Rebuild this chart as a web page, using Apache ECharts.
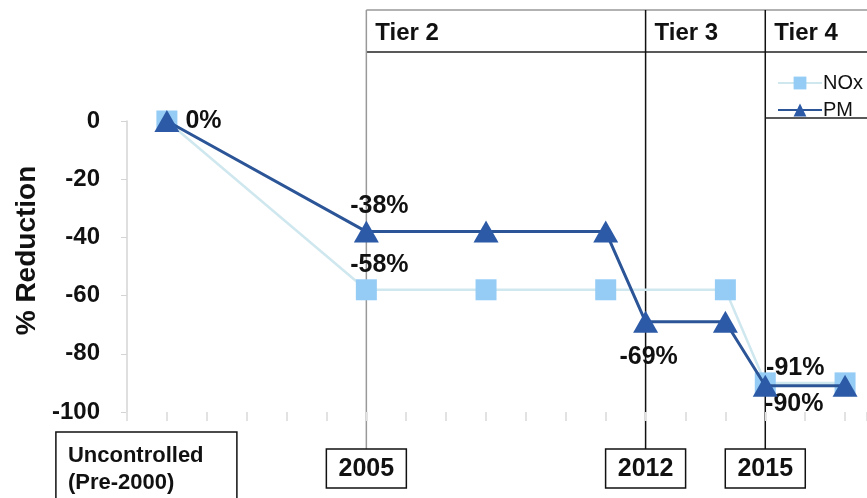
<!DOCTYPE html>
<html>
<head>
<meta charset="utf-8">
<script src="https://cdn.jsdelivr.net/npm/echarts@6/dist/echarts.min.js"></script>
<style>
  html, body { margin: 0; padding: 0; background: #fff; }
  #chart { width: 867px; height: 498px; }
</style>
</head>
<body>
<div id="chart"></div>
<script>
// data
const noxYears = [2000, 2005, 2008, 2011, 2014, 2015, 2017]
const noxValues = [0, -58, -58, -58, -58, -90, -90]
const pmYears = [2000, 2005, 2008, 2011, 2012, 2014, 2015, 2017]
const pmValues = [0, -38, -38, -38, -69, -69, -91, -91]
const tierNames = ['Tier 2', 'Tier 3', 'Tier 4']
const tierYears = [2005, 2012, 2015]
const milestoneLabels = ['2005', '2012', '2015']
const milestoneYears = [2005, 2012, 2015]

// which points carry a % label, and where
const pmLabels = {
	0: { position: 'right', distance: 6, offset: [0, 0] },
	1: { position: 'top', distance: 2, offset: [13, 0] },
	4: { position: 'bottom', distance: 12, offset: [3, 0] },
	6: { position: 'top', distance: -6, offset: [30, 0] },
}
const noxLabels = {
	1: { position: 'top', distance: 2, offset: [13, 0] },
	5: { position: 'bottom', distance: -2, offset: [29, 0] },
}

const font = 'Liberation Sans, Arial, sans-serif'

function buildData(xs, ys, labels) {
	return xs.map((x, i) => {
		let item = { value: [x, ys[i]] }
		if (labels[i]) {
			item.label = Object.assign({ show: true }, labels[i])
		}
		return item
	})
}

const labelStyle = {
	show: false,
	formatter: (p) => p.value[1] + '%',
	fontFamily: font,
	fontWeight: 'bold',
	fontSize: 25,
	color: '#111',
}

var chart = echarts.init(document.getElementById('chart'))
chart.setOption({
	animation: false,
	backgroundColor: '#fff',
	grid: { left: 127, right: 0, top: 121, bottom: 86 },
	legend: {
		orient: 'vertical',
		left: 772,
		top: 68,
		itemGap: 7,
		itemWidth: 44,
		itemHeight: 16,
		textStyle: { fontFamily: font, fontSize: 20, color: '#111', padding: [0, 0, 0, -4] },
		data: ['NOx', 'PM'],
	},
	xAxis: {
		type: 'value',
		min: 1999,
		max: 2017.55,
		interval: 1,
		axisLabel: { show: false },
		axisLine: { show: false, onZero: false },
		axisTick: { show: true, length: 9, lineStyle: { color: '#e2e2e2', width: 2 } },
		splitLine: { show: false },
	},
	yAxis: {
		type: 'value',
		min: -100,
		max: 0,
		interval: 20,
		name: '% Reduction',
		nameLocation: 'middle',
		nameGap: 84,
		nameTextStyle: { fontFamily: font, fontWeight: 'bold', fontSize: 28, color: '#111', padding: [0, 0, 0, 32] },
		axisLine: { show: true, lineStyle: { color: '#d4d4d4', width: 1.5 } },
		axisTick: { show: true, length: 6, lineStyle: { color: '#d4d4d4' } },
		axisLabel: { fontFamily: font, fontWeight: 'bold', fontSize: 24, color: '#111', margin: 27 },
		splitLine: { show: false },
	},
	series: [
		{
			name: 'NOx',
			type: 'line',
			data: buildData(noxYears, noxValues, noxLabels),
			symbol: 'rect',
			symbolSize: 21,
			itemStyle: { color: '#95ccf6' },
			lineStyle: { color: '#cfe7ee', width: 2.5 },
			label: labelStyle,
			z: 2,
		},
		{
			name: 'PM',
			type: 'line',
			data: buildData(pmYears, pmValues, pmLabels),
			symbol: 'triangle',
			symbolSize: [25, 22],
			itemStyle: { color: '#2d5aa6' },
			lineStyle: { color: '#2b5597', width: 3 },
			label: labelStyle,
			z: 3,
		},
	],
})

// tier bands and milestone boxes, positioned from the x axis scale
const px = (yr) => chart.convertToPixel({ xAxisIndex: 0 }, yr)
let graphics = []
const topY = 10
const divY = 52
graphics.push({ type: 'line', shape: { x1: px(2005), y1: topY, x2: 867, y2: topY }, style: { stroke: '#999', lineWidth: 1.5 } })
graphics.push({ type: 'line', shape: { x1: px(2005), y1: divY, x2: 867, y2: divY }, style: { stroke: '#222', lineWidth: 1.5 } })
tierYears.forEach((yr, i) => {
	const x = px(yr)
	graphics.push({
		type: 'line',
		shape: { x1: x, y1: topY, x2: x, y2: 450 },
		style: { stroke: i === 0 ? '#999' : '#111', lineWidth: 1.5 },
	})
	graphics.push({
		type: 'text',
		x: x + 9,
		y: 33,
		style: { text: tierNames[i], font: 'bold 24px ' + font, fill: '#111', verticalAlign: 'middle' },
	})
})
// legend box
graphics.push({ type: 'line', shape: { x1: px(2015), y1: 118, x2: 867, y2: 118 }, style: { stroke: '#222', lineWidth: 1.5 } })

milestoneYears.forEach((yr, i) => {
	const x = px(yr)
	graphics.push({
		type: 'rect',
		shape: { x: x - 40, y: 449, width: 80, height: 39 },
		style: { fill: '#fff', stroke: '#111', lineWidth: 1.5 },
		z: 10,
	})
	graphics.push({
		type: 'text',
		x: x,
		y: 469,
		style: { text: milestoneLabels[i], font: 'bold 25px ' + font, fill: '#111', align: 'center', verticalAlign: 'middle' },
		z: 11,
	})
})
// uncontrolled box
const x0 = px(2000)
graphics.push({
	type: 'rect',
	shape: { x: x0 - 111, y: 432, width: 181, height: 80 },
	style: { fill: '#fff', stroke: '#111', lineWidth: 1.5 },
	z: 10,
})
graphics.push({
	type: 'text',
	x: x0 - 99,
	y: 469,
	style: { text: 'Uncontrolled\n(Pre-2000)', font: 'bold 22px ' + font, fill: '#111', verticalAlign: 'middle', lineHeight: 27 },
	z: 11,
})

chart.setOption({ graphic: graphics })
</script>
</body>
</html>
